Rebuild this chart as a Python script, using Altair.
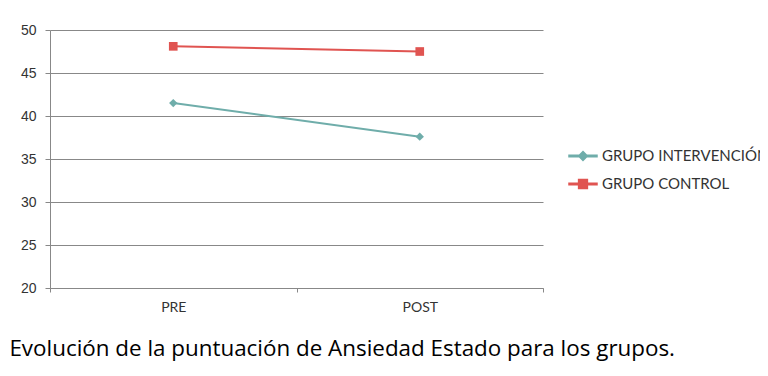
import altair as alt
import pandas as pd

momentos = ["PRE", "POST"]
grupos = ["GRUPO INTERVENCIÓN", "GRUPO CONTROL"]
intervencion = [41.5, 37.6]
control = [48.1, 47.5]
colores = ["#6fadaa", "#e05451"]
y_ticks = [20, 25, 30, 35, 40, 45, 50]

rows = []
for m, v in zip(momentos, intervencion):
    rows.append({"momento": m, "grupo": grupos[0], "valor": v})
for m, v in zip(momentos, control):
    rows.append({"momento": m, "grupo": grupos[1], "valor": v})
df = pd.DataFrame(rows)

x_enc = alt.X("momento:N", sort=momentos,
              scale=alt.Scale(paddingInner=0, paddingOuter=0),
              axis=alt.Axis(title=None, labelAngle=0, tickBand="extent", tickSize=4,
                            tickColor="#888888", domainColor="#888888",
                            labelFont="Lato", labelFontSize=14, labelColor="#333333",
                            labelPadding=8, grid=False))
y_enc = alt.Y("valor:Q", scale=alt.Scale(domain=[20, 50], nice=False, zero=False),
              axis=alt.Axis(title=None, values=y_ticks, tickSize=5, tickColor="#888888",
                            domainColor="#888888", gridColor="#888888", grid=True,
                            labelFont="Liberation Sans", labelFontSize=14,
                            labelColor="#333333", labelPadding=9))

color_scale = alt.Scale(domain=grupos, range=colores)

leg = alt.Legend(title=None, orient="none", legendX=524, legendY=117,
                 symbolSize=256, labelFont="Lato", labelFontSize=15,
                 labelColor="#333333", labelOffset=10, rowPadding=11,
                 padding=0, labelLimit=300, symbolOpacity=1)

color_enc = alt.Color("grupo:N", scale=color_scale, legend=leg)

lines = alt.Chart(df).mark_line(strokeWidth=2).encode(
    x=x_enc, y=y_enc, color=color_enc,
)

pts_int = alt.Chart(df).transform_filter(
    alt.datum.grupo == grupos[0]
).mark_point(filled=True, opacity=1, shape="diamond", size=70).encode(
    x=x_enc, y=y_enc, color=color_enc,
)
pts_ctl = alt.Chart(df).transform_filter(
    alt.datum.grupo == grupos[1]
).mark_point(filled=True, opacity=1, shape="square", size=75).encode(
    x=x_enc, y=y_enc, color=color_enc,
)

diamond_path = "M-1.75,-0.08L1.75,-0.08L1.75,0.08L-1.75,0.08Z M0,-0.55L0.55,0L0,0.55L-0.55,0Z"
square_path = "M-1.75,-0.08L1.75,-0.08L1.75,0.08L-1.75,0.08Z M-0.55,-0.55L0.55,-0.55L0.55,0.55L-0.55,0.55Z"

legend_layer = alt.Chart(df).mark_point(filled=True, opacity=1, size=0).encode(
    x=x_enc, y=y_enc, color=color_enc,
    shape=alt.Shape("grupo:N", scale=alt.Scale(domain=grupos, range=[diamond_path, square_path]),
                    legend=leg),
)

chart = alt.layer(lines, pts_int, pts_ctl, legend_layer).properties(
    width=493, height=258,
    autosize=alt.AutoSizeParams(type="none"),
    padding={"left": 42, "top": 22, "right": 217, "bottom": 80},
    title=alt.TitleParams("Evolución de la puntuación de Ansiedad Estado para los grupos.",
                          orient="bottom", anchor="start", font="Open Sans", fontSize=22.4,
                          fontWeight="normal", color="#000000", dx=-11, offset=24),
).configure_view(stroke=None)

chart.save("out.html", embed_options={"renderer": "svg", "actions": False})
